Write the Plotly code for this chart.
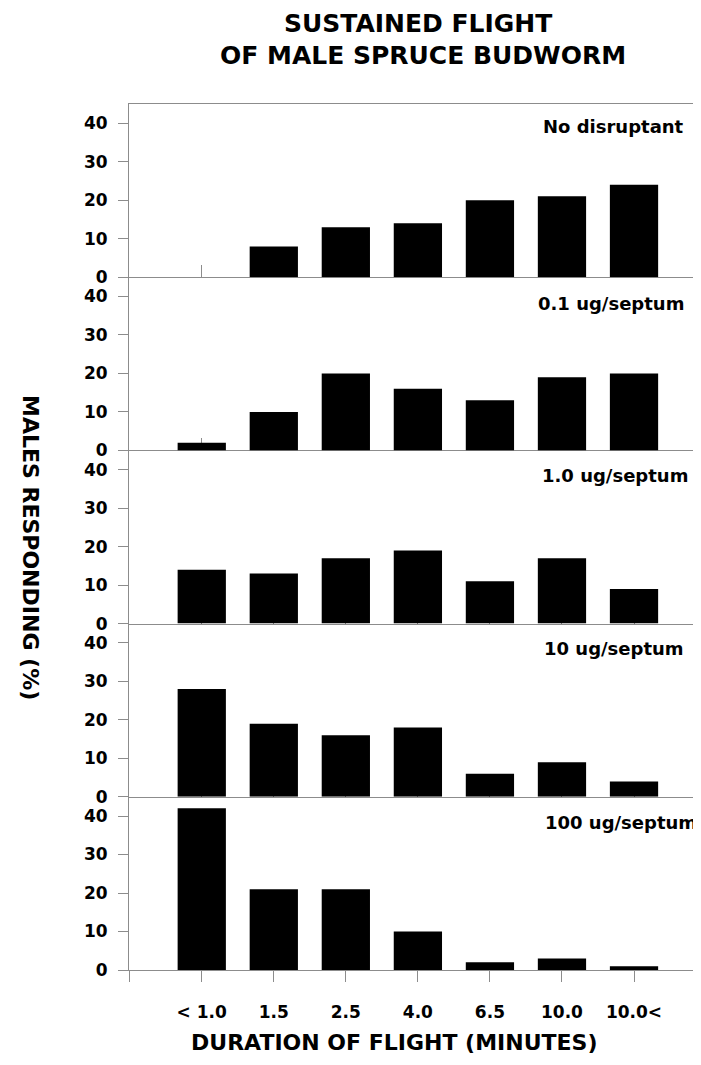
import plotly.graph_objects as go

# ---- data ----
categories = ["< 1.0", "1.5", "2.5", "4.0", "6.5", "10.0", "10.0<"]
panel_labels = ["No disruptant", "0.1 ug/septum", "1.0 ug/septum",
                "10 ug/septum", "100 ug/septum"]
no_disruptant = [0, 8, 13, 14, 20, 21, 24]
dose_0_1 = [2, 10, 20, 16, 13, 19, 20]
dose_1_0 = [14, 13, 17, 19, 11, 17, 9]
dose_10 = [28, 19, 16, 18, 6, 9, 4]
dose_100 = [42, 21, 21, 10, 2, 3, 1]
y_ticks = [0, 10, 20, 30, 40]
title_lines = ["SUSTAINED FLIGHT", "OF MALE SPRUCE BUDWORM"]
x_title = "DURATION OF FLIGHT (MINUTES)"
y_title = "MALES RESPONDING (%)"

series = [no_disruptant, dose_0_1, dose_1_0, dose_10, dose_100]

# ---- layout geometry (page has an 8px body margin) ----
OFF = 8
W, H = 701 - OFF, 1065 - 2 * OFF
PAGE_LEFT, PAGE_TOP, PAGE_BOTTOM = 129, 104, 970
L = PAGE_LEFT - OFF
R = 0
T = PAGE_TOP - OFF
B = H - (PAGE_BOTTOM - OFF)
PW = W - L - R
PH = H - T - B
n = len(series)
AX = "#8c8c8c"
FONT = "DejaVu Sans"
xpos = list(range(len(categories)))
xrange_ = [-1.01, 6.93]
tickv = [-1] + xpos


def px_x(px):
    return (px - OFF - L) / PW


def px_y(py):
    return (H - B - (py - OFF)) / PH


fig = go.Figure()
layout = dict(
    width=W, height=H, template="none",
    margin=dict(l=L, r=R, t=T, b=B, autoexpand=False),
    paper_bgcolor="white", plot_bgcolor="rgba(0,0,0,0)",
    showlegend=False, bargap=0.33,
    font=dict(family=FONT, color="black"),
)

label_right = [686, 686, 690, 686, 699]
label_dy = [22, 26, 25, 25, 26]
annotations = []

for i, vals in enumerate(series):
    k = i + 1
    top = 1 - i / n
    bot = 1 - (i + 1) / n
    xname = "xaxis" if k == 1 else f"xaxis{k}"
    yname = "yaxis" if k == 1 else f"yaxis{k}"
    xref = "x" if k == 1 else f"x{k}"
    yref = "y" if k == 1 else f"y{k}"

    layout[yname] = dict(
        domain=[bot, top], range=[0, 45], anchor=xref,
        tickmode="array", tickvals=y_ticks, ticks="outside", ticklen=10,
        tickcolor=AX, tickwidth=1, showline=True, linecolor=AX, linewidth=1,
        showgrid=False, zeroline=False, ticklabelstandoff=7,
        tickfont=dict(family=FONT, size=17, color="black", weight="bold"),
        automargin=False,
    )
    layout[xname] = dict(
        domain=[0, 1], range=xrange_, anchor=yref,
        tickmode="array", tickvals=tickv, ticks="inside", ticklen=12,
        tickcolor=AX, tickwidth=1, showticklabels=False,
        showline=True, linecolor=AX, linewidth=1, mirror=(k == 1),
        showgrid=False, zeroline=False, layer="below traces",
        automargin=False,
    )
    bar_x = xref
    if k == n:
        layout["xaxis6"] = dict(
            domain=[0, 1], range=xrange_, anchor=yref, overlaying=xref,
            tickmode="array", tickvals=tickv, ticktext=[""] + categories,
            ticks="outside", ticklen=11, tickcolor=AX, tickwidth=1,
            showline=True, linecolor=AX, linewidth=1,
            showgrid=False, zeroline=False, ticklabelstandoff=16,
            tickfont=dict(family=FONT, size=17, color="black", weight="bold"),
            automargin=False,
        )
        bar_x = "x6"

    fig.add_trace(go.Bar(
        x=xpos, y=vals, xaxis=bar_x, yaxis=yref,
        marker=dict(color="black", line=dict(width=0)),
        hoverinfo="skip",
    ))

    panel_h = PH / n
    annotations.append(dict(
        text=panel_labels[i], xref="paper", yref=f"{yref} domain",
        x=px_x(label_right[i]), y=1 - label_dy[i] / panel_h,
        xanchor="right", yanchor="middle", showarrow=False,
        font=dict(family=FONT, size=18, color="black", weight="bold"),
    ))

# titles
annotations.append(dict(
    text=title_lines[0], xref="paper", yref="paper",
    x=px_x(418), y=px_y(23), xanchor="center", yanchor="middle",
    showarrow=False, font=dict(family=FONT, size=25, color="black", weight="bold"),
))
annotations.append(dict(
    text=title_lines[1], xref="paper", yref="paper",
    x=px_x(423), y=px_y(56), xanchor="center", yanchor="middle",
    showarrow=False, font=dict(family=FONT, size=25, color="black", weight="bold"),
))
annotations.append(dict(
    text=x_title, xref="paper", yref="paper",
    x=px_x(394), y=px_y(1042), xanchor="center", yanchor="middle",
    showarrow=False, font=dict(family=FONT, size=22, color="black", weight="bold"),
))
annotations.append(dict(
    text=y_title, xref="paper", yref="paper",
    x=px_x(31), y=px_y(547), xanchor="center", yanchor="middle",
    textangle=90, showarrow=False,
    font=dict(family=FONT, size=22, color="black", weight="bold"),
))

layout["annotations"] = annotations
fig.update_layout(**layout)
fig.write_html("out.html")
